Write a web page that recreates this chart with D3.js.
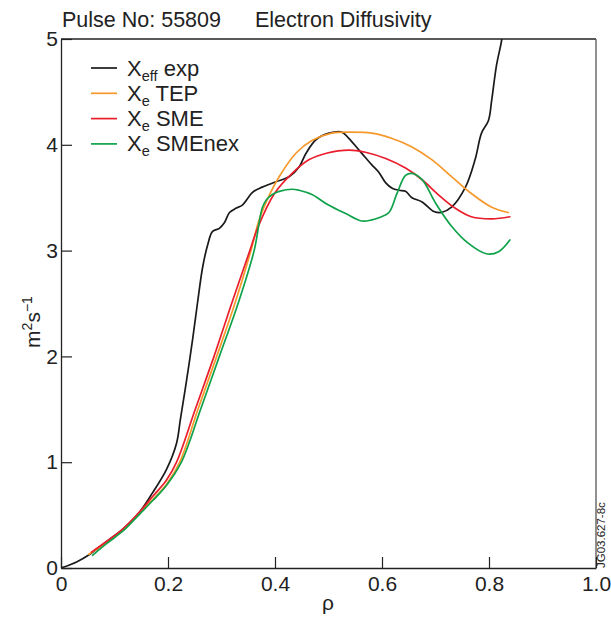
<!DOCTYPE html>
<html>
<head>
<meta charset="utf-8">
<script src="https://cdn.jsdelivr.net/npm/d3@7"></script>
<style>
  html, body { margin: 0; padding: 0; background: #fff; }
  svg { display: block; font-family: "Liberation Sans", Arial, Helvetica, sans-serif; }
</style>
</head>
<body>
<svg id="chart" width="611" height="621"></svg>
<script>
// ---- Data ----
const xTickValues = [0, 0.2, 0.4, 0.6, 0.8, 1.0];
const xTickLabels = ["0", "0.2", "0.4", "0.6", "0.8", "1.0"];
const yTickValues = [0, 1, 2, 3, 4, 5];
const yTickLabels = ["0", "1", "2", "3", "4", "5"];

const rhoExp = [0, 0.030, 0.054, 0.085, 0.116, 0.147, 0.171, 0.197, 0.216, 0.223, 0.234, 0.246, 0.255, 0.265, 0.275, 0.283, 0.296, 0.305, 0.315, 0.327, 0.339, 0.358, 0.376, 0.402, 0.427, 0.445, 0.458, 0.477, 0.501, 0.525, 0.538, 0.557, 0.569, 0.581, 0.594, 0.607, 0.619, 0.632, 0.644, 0.656, 0.675, 0.697, 0.711, 0.730, 0.756, 0.774, 0.786, 0.799, 0.805, 0.814, 0.824, 0.828];
const chiExp = [0, 0.06, 0.13, 0.25, 0.37, 0.53, 0.71, 0.93, 1.18, 1.40, 1.75, 2.16, 2.5, 2.85, 3.07, 3.18, 3.21, 3.26, 3.36, 3.40, 3.43, 3.55, 3.60, 3.65, 3.70, 3.79, 3.92, 4.05, 4.11, 4.12, 4.06, 3.95, 3.88, 3.81, 3.74, 3.64, 3.59, 3.57, 3.56, 3.50, 3.46, 3.37, 3.36, 3.41, 3.60, 3.86, 4.11, 4.23, 4.42, 4.75, 5.0, 5.2];

const rhoTEP = [0.052, 0.085, 0.116, 0.147, 0.172, 0.197, 0.222, 0.256, 0.291, 0.325, 0.355, 0.371, 0.391, 0.408, 0.439, 0.469, 0.506, 0.544, 0.581, 0.619, 0.656, 0.693, 0.730, 0.767, 0.805, 0.836];
const chiTEP = [0.13, 0.24, 0.36, 0.52, 0.65, 0.79, 1.0, 1.5, 2.0, 2.5, 3.0, 3.3, 3.54, 3.70, 3.92, 4.04, 4.11, 4.12, 4.11, 4.06, 3.98, 3.86, 3.70, 3.54, 3.41, 3.36];

const rhoSME = [0.057, 0.085, 0.116, 0.147, 0.172, 0.197, 0.216, 0.251, 0.286, 0.319, 0.353, 0.368, 0.399, 0.432, 0.464, 0.496, 0.538, 0.569, 0.607, 0.644, 0.675, 0.705, 0.737, 0.767, 0.805, 0.839];
const chiSME = [0.15, 0.25, 0.37, 0.53, 0.68, 0.83, 1.0, 1.5, 2.0, 2.5, 3.0, 3.22, 3.54, 3.73, 3.86, 3.92, 3.95, 3.93, 3.87, 3.78, 3.67, 3.53, 3.40, 3.32, 3.30, 3.32];

const rhoSMEnex = [0.059, 0.085, 0.116, 0.147, 0.172, 0.197, 0.225, 0.261, 0.296, 0.331, 0.361, 0.376, 0.384, 0.395, 0.408, 0.432, 0.445, 0.469, 0.500, 0.532, 0.562, 0.581, 0.594, 0.613, 0.628, 0.644, 0.656, 0.675, 0.700, 0.730, 0.761, 0.795, 0.818, 0.839];
const chiSMEnex = [0.12, 0.23, 0.35, 0.51, 0.64, 0.78, 1.0, 1.5, 2.0, 2.5, 3.0, 3.40, 3.48, 3.53, 3.56, 3.58, 3.57, 3.53, 3.43, 3.35, 3.28, 3.29, 3.31, 3.36, 3.54, 3.71, 3.73, 3.67, 3.45, 3.23, 3.07, 2.97, 2.99, 3.10];

// ---- Layout ----
const svg = d3.select("#chart");
const L = 61, R = 596, T = 39, B = 568;
const x = d3.scaleLinear().domain([0, 1]).range([L, R]);
const y = d3.scaleLinear().domain([0, 5]).range([B, T]);

const series = [
  { rho: rhoExp, chi: chiExp, color: "#1a1a1a", sub: "eff", label: " exp" },
  { rho: rhoTEP, chi: chiTEP, color: "#f6982a", sub: "e", label: " TEP" },
  { rho: rhoSME, chi: chiSME, color: "#ea1d2c", sub: "e", label: " SME" },
  { rho: rhoSMEnex, chi: chiSMEnex, color: "#0fa24a", sub: "e", label: " SMEnex" }
];

svg.append("defs").append("clipPath").attr("id", "plotclip")
  .append("rect").attr("x", L).attr("y", T).attr("width", R - L).attr("height", B - T);

// frame
svg.append("line").attr("x1", L).attr("x2", R).attr("y1", T).attr("y2", T)
  .attr("stroke", "#222").attr("stroke-width", 1.3);
svg.append("line").attr("x1", R).attr("x2", R).attr("y1", T).attr("y2", B)
  .attr("stroke", "#555").attr("stroke-width", 1.3);

// axes
const xAxis = d3.axisBottom(x).tickValues(xTickValues)
  .tickFormat((d, i) => xTickLabels[i]).tickSizeInner(-11).tickSizeOuter(0).tickPadding(8);
const yAxis = d3.axisLeft(y).tickValues(yTickValues)
  .tickFormat((d, i) => yTickLabels[i]).tickSizeInner(-11).tickSizeOuter(0).tickPadding(3);

const gx = svg.append("g").attr("transform", `translate(0,${B})`).call(xAxis);
const gy = svg.append("g").attr("transform", `translate(${L},0)`).call(yAxis);
[gx, gy].forEach(g => {
  g.select(".domain").attr("stroke", "#222").attr("stroke-width", 1.3);
  g.selectAll(".tick line").attr("stroke", "#222").attr("stroke-width", 1.2);
  g.selectAll(".tick text").attr("fill", "#222").style("font-size", "21px")
    .style("font-family", "'Liberation Sans', Arial, sans-serif");
});

// lines
const line = d3.line().curve(d3.curveCatmullRom.alpha(0.5))
  .x(d => x(d[0])).y(d => y(d[1]));
const plot = svg.append("g").attr("clip-path", "url(#plotclip)");
series.forEach(s => {
  const pts = s.rho.map((r, i) => [r, s.chi[i]]);
  plot.append("path").datum(pts).attr("d", line)
    .attr("fill", "none").attr("stroke", s.color).attr("stroke-width", 1.7)
    .attr("stroke-linejoin", "round").attr("stroke-linecap", "round");
});

// legend
const legend = svg.append("g");
series.forEach((s, i) => {
  const cy = 68 + i * 25.3;
  legend.append("line").attr("x1", 91).attr("x2", 117).attr("y1", cy).attr("y2", cy)
    .attr("stroke", s.color).attr("stroke-width", 1.7);
  const t = legend.append("text").attr("x", 127).attr("y", cy + 7.5)
    .style("font-size", "22px").attr("fill", "#222");
  t.append("tspan").text("X");
  t.append("tspan").attr("dy", 5).style("font-size", "14.5px").text(s.sub);
  t.append("tspan").attr("dy", -5).text(s.label);
});

// title
svg.append("text").attr("x", 62).attr("y", 27).style("font-size", "21.5px").attr("fill", "#222")
  .text("Pulse No: 55809");
svg.append("text").attr("x", 255).attr("y", 27).style("font-size", "21.5px").attr("fill", "#222")
  .text("Electron Diffusivity");

// axis titles
svg.append("text").attr("x", 328).attr("y", 610).attr("text-anchor", "middle")
  .style("font-size", "21px").attr("fill", "#222").text("ρ");
const yt = svg.append("text").attr("transform", "translate(40,322) rotate(-90)")
  .attr("text-anchor", "middle").style("font-size", "21px").attr("fill", "#222");
yt.append("tspan").text("m");
yt.append("tspan").attr("dy", -8).style("font-size", "14px").text("2");
yt.append("tspan").attr("dy", 8).text("s");
yt.append("tspan").attr("dy", -8).style("font-size", "14px").text("−1");

// code label
svg.append("text").attr("transform", "translate(605,568) rotate(-90)")
  .attr("text-anchor", "start").style("font-size", "11.5px").attr("fill", "#222")
  .text("JG03.627-8c");
</script>
</body>
</html>
